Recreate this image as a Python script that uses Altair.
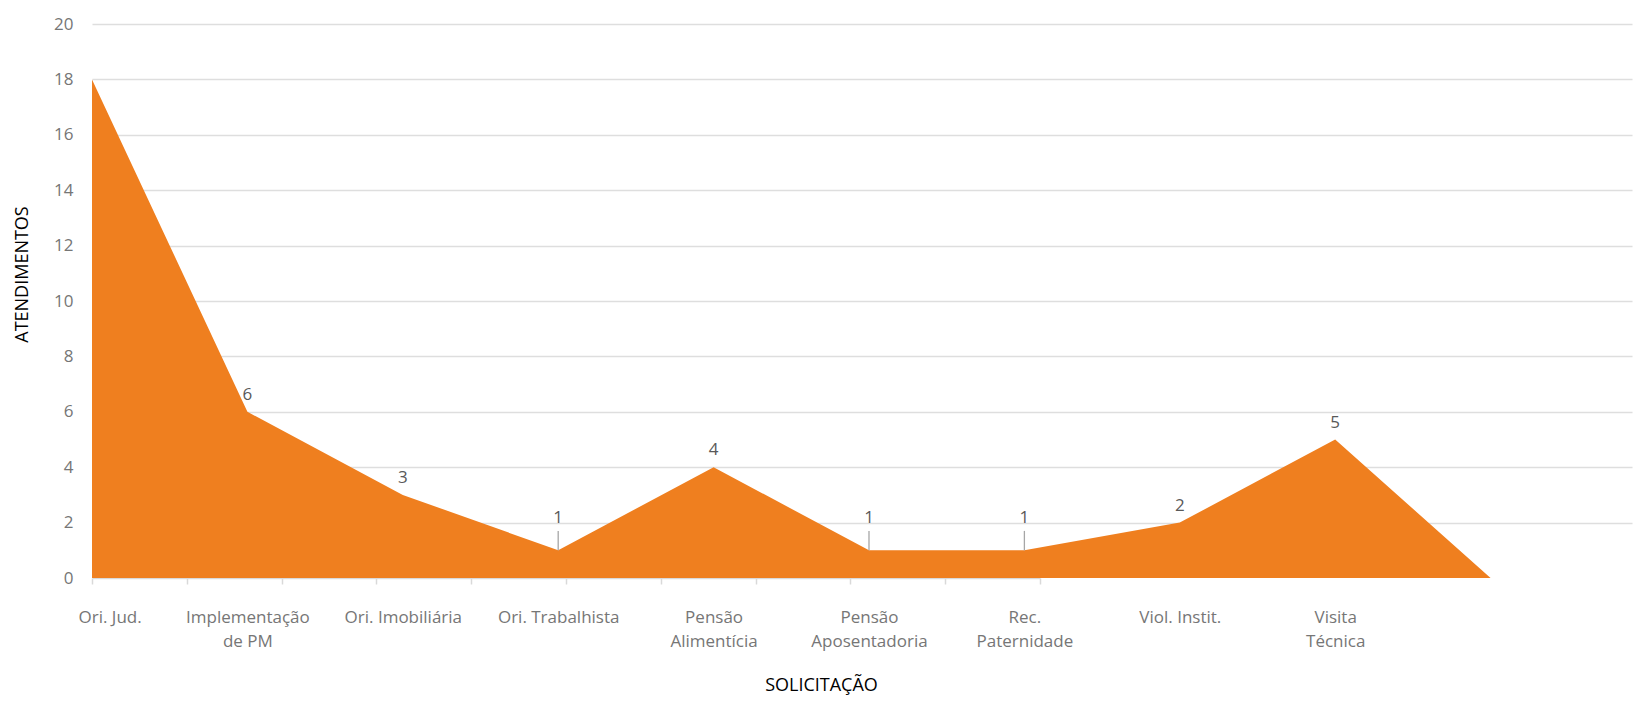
import json
import altair as alt
import pandas as pd

# ---- data ----
categories = ["Ori. Jud.", "Implementação|de PM", "Ori. Imobiliária", "Ori. Trabalhista",
              "Pensão|Alimentícia", "Pensão|Aposentadoria", "Rec.|Paternidade",
              "Viol. Instit.", "Visita|Técnica", ""]
values = [18, 6, 3, 1, 4, 1, 1, 2, 5, 0]
y_ticks = [0, 2, 4, 6, 8, 10, 12, 14, 16, 18, 20]

df = pd.DataFrame({"idx": list(range(len(values))), "cat": categories, "val": values})

ORANGE = "#EF7F1F"
FONT = "Open Sans"
label_expr = "split(" + json.dumps(categories, ensure_ascii=False) + "[datum.value], '|')"

x_main = alt.X(
    "idx:Q",
    scale=alt.Scale(domain=[0, 9.91], nice=False, zero=False),
    axis=alt.Axis(
        orient="bottom", values=list(range(9)), labelExpr=label_expr,
        domain=False, ticks=False, tickSize=0, grid=False,
        labelFont=FONT, labelFontSize=17, labelColor="#767676",
        labelPadding=31, labelLineHeight=24, labelOverlap=False, labelBound=False,
        labelFlush=5, labelFlushOffset=14,
        title="SOLICITAÇÃO", titleX=729, titleY=107, titleAlign="center",
        titleBaseline="middle", titleFont=FONT, titleFontSize=18,
        titleFontWeight="normal", titleColor="#000000",
    ),
)

y_main = alt.Y(
    "val:Q",
    scale=alt.Scale(domain=[0, 20], nice=False),
    axis=alt.Axis(
        values=y_ticks, grid=True, gridColor="#dedede", gridWidth=1.5,
        gridOpacity={"condition": {"test": "datum.value === 0", "value": 0}, "value": 1},
        domain=False, ticks=False, tickSize=0,
        labelFont=FONT, labelFontSize=17, labelColor="#767676", labelPadding=19,
        title="ATENDIMENTOS", titleX=-70, titleY=250, titleAngle=270,
        titleAlign="center", titleBaseline="middle", titleFont=FONT,
        titleFontSize=18, titleFontWeight="normal", titleColor="#000000",
    ),
)

base = alt.Chart(df)

area = base.mark_area(color=ORANGE, opacity=1, interpolate="linear").encode(x=x_main, y=y_main)

labelled = "datum.idx > 0 && datum.val > 0"

leaders = (
    base.transform_filter(labelled + " && datum.val == 1")
    .transform_calculate(top="datum.val + 0.7")
    .mark_rule(color="#a6a6a6", strokeWidth=1.3)
    .encode(x=x_main, y=y_main, y2="top:Q")
)

labels_high = (
    base.transform_filter(labelled + " && datum.val > 1")
    .mark_text(dy=-17, fontSize=17, font=FONT, color="#595959", baseline="middle")
    .encode(x=x_main, y=y_main, text="val:Q")
)

labels_low = (
    base.transform_filter(labelled + " && datum.val == 1")
    .mark_text(dy=-32, fontSize=17, font=FONT, color="#595959", baseline="middle")
    .encode(x=x_main, y=y_main, text="val:Q")
)

main = alt.layer(area, leaders, labels_high, labels_low)

# category axis line with band ticks (as drawn in the source chart)
band_axis = base.mark_point(opacity=0).encode(
    x=alt.X(
        "idx:N",
        scale=alt.Scale(type="band", range=[0, 948], paddingInner=0, paddingOuter=0),
        axis=alt.Axis(
            orient="bottom", labels=False, title=None, grid=False,
            domain=True, domainColor="#d9d9d9", domainWidth=1.5,
            ticks=True, tickColor="#d9d9d9", tickWidth=1.5, tickSize=6, tickBand="extent",
        ),
    ),
    y=y_main,
)

chart = (
    alt.layer(main, band_axis)
    .resolve_scale(x="independent")
    .properties(
        width=1540, height=554,
        autosize=alt.AutoSizeParams(type="none"),
        padding={"left": 84, "top": 16, "right": 4, "bottom": 122},
        view=alt.ViewBackground(stroke="transparent"),
    )
    .configure_view(stroke="transparent", strokeWidth=0)
    .configure(font=FONT)
)

chart.save("out.html", embed_options={"renderer": "svg", "actions": False})
